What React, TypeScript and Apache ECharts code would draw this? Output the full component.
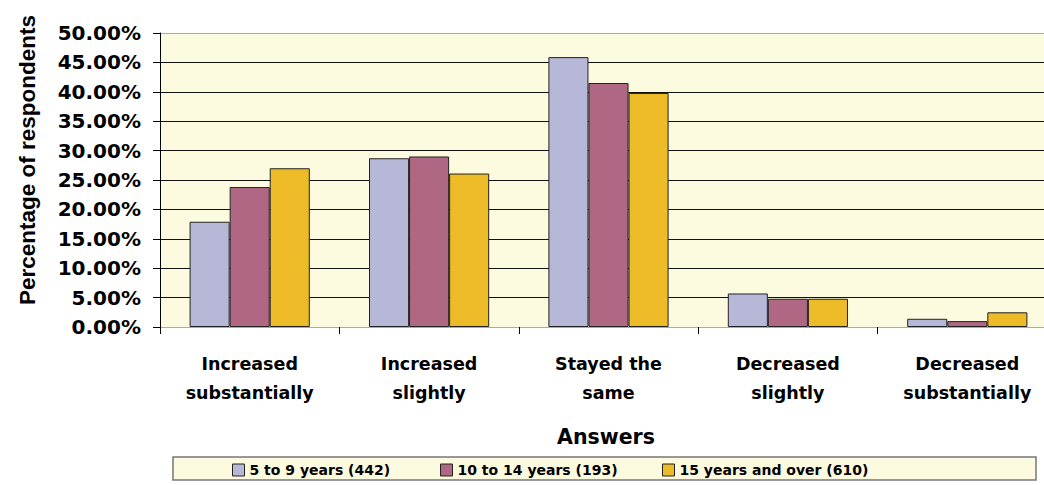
import React, { useEffect, useRef } from "react";
import * as echarts from "echarts";

const categories = [
  "Increased\nsubstantially",
  "Increased\nslightly",
  "Stayed the\nsame",
  "Decreased\nslightly",
  "Decreased\nsubstantially",
];
const seriesNames = ["5 to 9 years (442)", "10 to 14 years (193)", "15 years and over (610)"];
const years5to9 = [17.9, 28.7, 45.9, 5.7, 1.4];
const years10to14 = [23.8, 29.0, 41.5, 4.8, 1.0];
const years15plus = [27.0, 26.1, 39.8, 4.8, 2.5];
const colors = ["#B7B7D7", "#B06783", "#EDBA28"];
const yTitle = "Percentage of respondents";
const xTitle = "Answers";

const BOLD = "DejaVu Sans";

export default function App() {
  const ref = useRef<HTMLDivElement>(null);
  useEffect(() => {
    if (!ref.current) return;
    const chart = echarts.init(ref.current, undefined, { renderer: "svg" });
    const values = [years5to9, years10to14, years15plus];
    const legendLefts = [232, 440, 662];
    const splitColors = Array(10).fill("#111").concat(["#aaa"]);
    chart.setOption({
      animation: false,
      backgroundColor: "#ffffff",
      grid: {
        left: 160,
        top: 33,
        width: 897,
        height: 294,
        outerBoundsMode: "none",
        containLabel: false,
        show: true,
        backgroundColor: "#FDFBDF",
        borderWidth: 0,
      },
      xAxis: {
        type: "category",
        data: categories,
        axisLine: { show: true, lineStyle: { color: "#aaa", width: 1 } },
        axisTick: { show: true, length: 7, lineStyle: { color: "#000" } },
        axisLabel: {
          margin: 22,
          fontFamily: BOLD,
          fontWeight: "bold",
          fontSize: 17.5,
          lineHeight: 29,
          color: "#000",
          interval: 0,
        },
      },
      yAxis: {
        type: "value",
        min: 0,
        max: 50,
        interval: 5,
        axisLine: { show: true, lineStyle: { color: "#000" } },
        axisTick: { show: true, length: 7, lineStyle: { color: "#000" } },
        axisLabel: {
          margin: 19,
          fontFamily: BOLD,
          fontWeight: "bold",
          fontSize: 20,
          color: "#000",
          formatter: (v: number) => v.toFixed(2) + "%",
        },
        splitLine: { show: true, lineStyle: { color: splitColors, width: 1 } },
      },
      legend: seriesNames.map((name, i) => ({
        data: [name],
        left: legendLefts[i],
        top: 463,
        padding: 0,
        itemWidth: 12,
        itemHeight: 12,
        icon: "rect",
        z: 10,
        itemStyle: { borderColor: "#222", borderWidth: 1 },
        textStyle: {
          fontFamily: BOLD,
          fontWeight: "bold",
          fontSize: 14,
          color: "#000",
        },
      })),
      graphic: [
        {
          type: "rect",
          z: 0,
          shape: { x: 173, y: 457, width: 863, height: 23 },
          style: { fill: "#FDFBDF", stroke: "#777", lineWidth: 1.5 },
        },
        {
          type: "text",
          x: 27,
          y: 160,
          rotation: Math.PI / 2,
          style: {
            text: yTitle,
            fontFamily: "Liberation Sans",
            fontWeight: "bold",
            fontSize: 22.5,
            fill: "#000",
            align: "center",
            verticalAlign: "middle",
          },
        },
        {
          type: "text",
          x: 606,
          y: 437,
          style: {
            text: xTitle,
            fontFamily: BOLD,
            fontWeight: "bold",
            fontSize: 20.5,
            fill: "#000",
            align: "center",
            verticalAlign: "middle",
          },
        },
      ],
      series: seriesNames.map((name, i) => ({
        name,
        type: "bar",
        data: values[i],
        barGap: "0%",
        barCategoryGap: "33%",
        itemStyle: { color: colors[i], borderColor: "#222", borderWidth: 1 },
      })),
    });
    return () => chart.dispose();
  }, []);
  return (
    <div
      ref={ref}
      style={{ position: "fixed", left: 0, top: 0, width: 1044, height: 485 }}
    />
  );
}
